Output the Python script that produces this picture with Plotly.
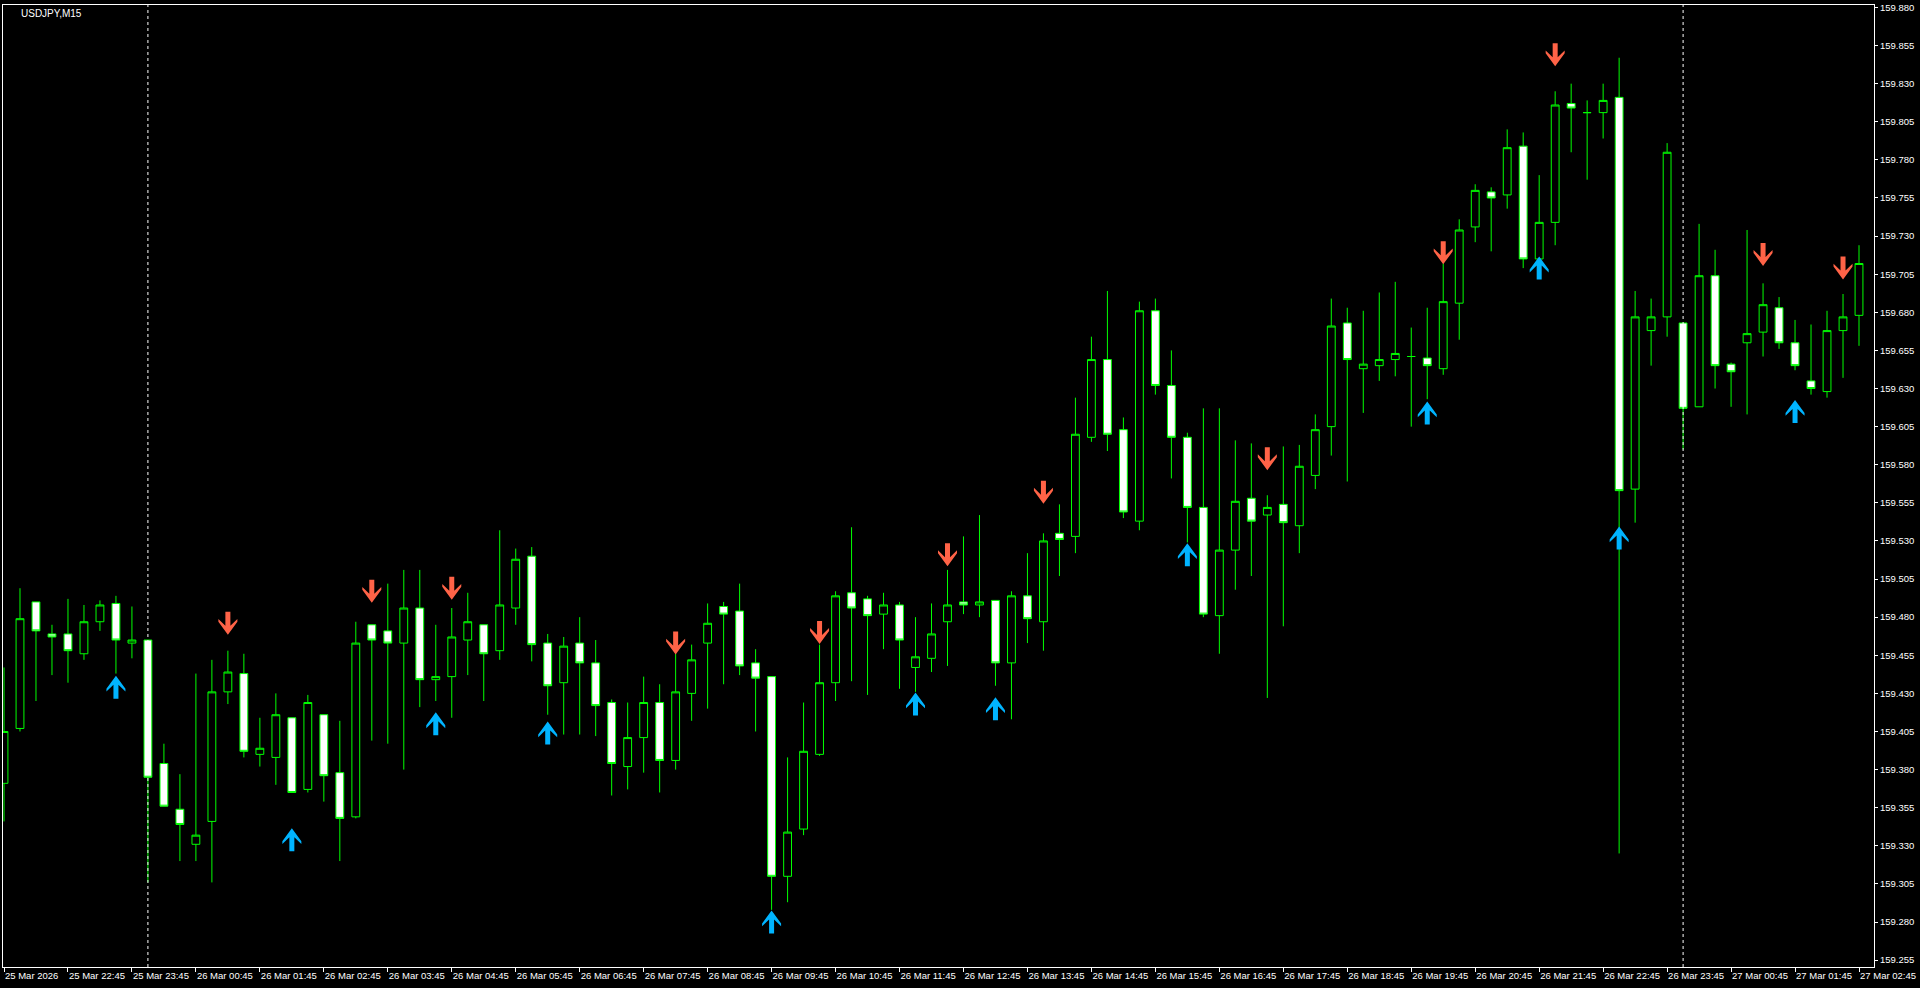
import pandas as pd
import plotly.graph_objects as go

# USDJPY M15 bars, 25 Mar 21:45 -> 27 Mar 02:45
times = pd.date_range("2026-03-25 21:45", periods=117, freq="15min")

open_ = [
    159.371, 159.407, 159.490, 159.469, 159.469, 159.456, 159.477, 159.489, 159.463, 159.465,
    159.384, 159.354, 159.331, 159.346, 159.431, 159.443, 159.390, 159.388, 159.414, 159.367,
    159.416, 159.378, 159.349, 159.475, 159.471, 159.463, 159.486, 159.439, 159.441, 159.465,
    159.475, 159.458, 159.486, 159.520, 159.463, 159.437, 159.463, 159.450, 159.424, 159.382,
    159.401, 159.424, 159.386, 159.430, 159.463, 159.487, 159.484, 159.450, 159.441, 159.310,
    159.341, 159.390, 159.437, 159.496, 159.492, 159.482, 159.488, 159.447, 159.453, 159.477,
    159.490, 159.488, 159.491, 159.450, 159.494, 159.477, 159.535, 159.533, 159.598, 159.649,
    159.603, 159.543, 159.681, 159.632, 159.598, 159.552, 159.481, 159.524, 159.558, 159.547,
    159.554, 159.540, 159.573, 159.605, 159.673, 159.643, 159.645, 159.649, 159.651, 159.650,
    159.643, 159.686, 159.736, 159.759, 159.757, 159.789, 159.715, 159.739, 159.817, 159.811,
    159.811, 159.821, 159.564, 159.668, 159.677, 159.673, 159.618, 159.704, 159.646, 159.660,
    159.667, 159.683, 159.660, 159.635, 159.628, 159.668, 159.678,
]
high = [
    159.447, 159.499, 159.490, 159.475, 159.492, 159.488, 159.491, 159.494, 159.487, 159.465,
    159.397, 159.377, 159.443, 159.452, 159.458, 159.456, 159.414, 159.430, 159.414, 159.429,
    159.416, 159.412, 159.477, 159.475, 159.502, 159.511, 159.511, 159.475, 159.486, 159.496,
    159.475, 159.537, 159.525, 159.526, 159.469, 159.467, 159.480, 159.465, 159.426, 159.424,
    159.441, 159.436, 159.456, 159.462, 159.489, 159.490, 159.502, 159.459, 159.441, 159.388,
    159.424, 159.462, 159.497, 159.539, 159.494, 159.496, 159.490, 159.480, 159.489, 159.511,
    159.533, 159.547, 159.491, 159.497, 159.522, 159.535, 159.554, 159.624, 159.664, 159.694,
    159.611, 159.687, 159.689, 159.655, 159.601, 159.617, 159.617, 159.596, 159.594, 159.560,
    159.592, 159.593, 159.613, 159.689, 159.683, 159.681, 159.693, 159.700, 159.670, 159.683,
    159.712, 159.741, 159.764, 159.762, 159.800, 159.798, 159.770, 159.825, 159.830, 159.819,
    159.830, 159.847, 159.694, 159.689, 159.791, 159.673, 159.738, 159.721, 159.647, 159.734,
    159.699, 159.690, 159.675, 159.672, 159.681, 159.692, 159.724,
]
low = [
    159.346, 159.405, 159.425, 159.442, 159.437, 159.452, 159.471, 159.443, 159.453, 159.306,
    159.356, 159.320, 159.320, 159.306, 159.423, 159.388, 159.382, 159.370, 159.365, 159.365,
    159.359, 159.320, 159.348, 159.399, 159.397, 159.380, 159.421, 159.425, 159.414, 159.442,
    159.425, 159.452, 159.475, 159.451, 159.416, 159.403, 159.403, 159.402, 159.363, 159.367,
    159.378, 159.365, 159.380, 159.412, 159.420, 159.436, 159.442, 159.405, 159.288, 159.293,
    159.337, 159.389, 159.425, 159.438, 159.429, 159.459, 159.433, 159.431, 159.444, 159.448,
    159.482, 159.480, 159.435, 159.413, 159.463, 159.458, 159.507, 159.522, 159.595, 159.589,
    159.545, 159.537, 159.626, 159.571, 159.529, 159.480, 159.456, 159.498, 159.507, 159.427,
    159.474, 159.522, 159.564, 159.586, 159.569, 159.614, 159.635, 159.638, 159.605, 159.623,
    159.639, 159.662, 159.726, 159.720, 159.748, 159.709, 159.715, 159.724, 159.785, 159.767,
    159.794, 159.325, 159.542, 159.645, 159.664, 159.590, 159.618, 159.630, 159.618, 159.613,
    159.651, 159.656, 159.642, 159.626, 159.624, 159.637, 159.658,
]
close = [
    159.405, 159.479, 159.471, 159.467, 159.458, 159.477, 159.488, 159.465, 159.465, 159.375,
    159.356, 159.344, 159.337, 159.431, 159.444, 159.392, 159.394, 159.416, 159.365, 159.424,
    159.376, 159.348, 159.463, 159.465, 159.463, 159.486, 159.439, 159.441, 159.467, 159.477,
    159.456, 159.488, 159.518, 159.462, 159.435, 159.461, 159.450, 159.422, 159.384, 159.401,
    159.424, 159.386, 159.431, 159.452, 159.476, 159.482, 159.448, 159.440, 159.310, 159.339,
    159.392, 159.437, 159.494, 159.486, 159.481, 159.488, 159.465, 159.454, 159.469, 159.488,
    159.488, 159.490, 159.450, 159.494, 159.479, 159.530, 159.531, 159.600, 159.649, 159.600,
    159.549, 159.681, 159.632, 159.598, 159.552, 159.482, 159.524, 159.556, 159.543, 159.552,
    159.542, 159.579, 159.603, 159.671, 159.649, 159.646, 159.649, 159.653, 159.651, 159.645,
    159.687, 159.734, 159.760, 159.755, 159.788, 159.715, 159.739, 159.816, 159.814, 159.811,
    159.819, 159.563, 159.677, 159.677, 159.785, 159.617, 159.704, 159.645, 159.641, 159.666,
    159.685, 159.660, 159.645, 159.630, 159.668, 159.677, 159.712,
]

# signal arrows (bar index, price)
sell_bars = [14, 23, 28, 42, 51, 59, 65, 79, 90, 97, 110, 115]
sell_price = [159.476, 159.497, 159.499, 159.463, 159.470, 159.521, 159.562, 159.584,
              159.719, 159.849, 159.718, 159.709]
buy_bars = [7, 18, 27, 34, 48, 57, 62, 74, 89, 96, 101, 112]
buy_price = [159.434, 159.334, 159.410, 159.404, 159.280, 159.423, 159.420, 159.521,
             159.614, 159.709, 159.532, 159.615]

price_ticks = [round(159.255 + 0.025 * k, 3) for k in range(26)]
time_tick_idx = list(range(0, len(times), 4))
time_tick_text = [times[i].strftime("%d %b %H:%M") for i in time_tick_idx]
time_tick_text[0] = times[0].strftime("%d %b %Y")

GREEN = "#00FF00"
FONT = "Liberation Sans"

x = list(range(len(times)))

fig = go.Figure()
fig.add_trace(go.Candlestick(
    x=x, open=open_, high=high, low=low, close=close,
    increasing=dict(line=dict(color=GREEN, width=1), fillcolor="black"),
    decreasing=dict(line=dict(color=GREEN, width=1), fillcolor="white"),
    whiskerwidth=0,
    hoverinfo="skip",
))

# thick arrows drawn in pixel units around an anchor price
down_path = "M-2.5,11.5 L2.5,11.5 L2.5,-2.5 L9.5,4.3 L9.5,1.5 L0,-11.5 L-9.5,1.5 L-9.5,4.3 L-2.5,-2.5 Z"
up_path = "M-2.5,-11.5 L2.5,-11.5 L2.5,2.5 L9.5,-4.3 L9.5,-1.5 L0,11.5 L-9.5,-1.5 L-9.5,-4.3 L-2.5,2.5 Z"

for b, p in zip(sell_bars, sell_price):
    fig.add_shape(type="path", xref="x", yref="y", xsizemode="pixel", ysizemode="pixel",
                  xanchor=b, yanchor=p, path=down_path,
                  fillcolor="#FF6347", line=dict(width=0))
for b, p in zip(buy_bars, buy_price):
    fig.add_shape(type="path", xref="x", yref="y", xsizemode="pixel", ysizemode="pixel",
                  xanchor=b, yanchor=p, path=up_path,
                  fillcolor="#00B4FF", line=dict(width=0))

# day separators
for i, t in enumerate(times):
    if t.hour == 0 and t.minute == 0:
        fig.add_shape(type="line", xref="x", yref="paper", x0=i, x1=i, y0=0, y1=1,
                      line=dict(color="white", width=1, dash="3px,3px"))

fig.add_annotation(
    text="USDJPY,M15", xref="paper", yref="paper", x=0.0086, y=0.991,
    xanchor="left", yanchor="middle", showarrow=False,
    font=dict(family=FONT, size=10, color="white"),
)

fig.update_layout(
    width=1920, height=988,
    margin=dict(l=2, r=46, t=2, b=21),
    paper_bgcolor="black", plot_bgcolor="black",
    showlegend=False,
    font=dict(family=FONT, size=10, color="white"),
    xaxis=dict(
        range=[-0.0625, 116.9375], rangeslider=dict(visible=False),
        showgrid=False, zeroline=False,
        showline=True, linecolor="white", linewidth=1, mirror=True,
        ticks="outside", ticklen=4, tickcolor="white",
        tickvals=time_tick_idx, ticktext=time_tick_text,
        tickangle=0, ticklabelposition="outside right",
        ticklabeloverflow="allow",
        tickfont=dict(family=FONT, size=9.5, color="white"),
    ),
    yaxis=dict(
        side="right", range=[159.2505, 159.8816],
        showgrid=False, zeroline=False,
        showline=True, linecolor="white", linewidth=1, mirror=True,
        ticks="outside", ticklen=3, tickcolor="white",
        tickvals=price_ticks, ticktext=[f"{v:.3f}" for v in price_ticks],
        ticklabeloverflow="allow",
        tickfont=dict(family=FONT, size=9.5, color="white"),
    ),
)

fig.write_html(
    "out.html",
    config={"displayModeBar": False},
    post_script="document.body.style.margin='0';document.body.style.overflow='hidden';",
)
